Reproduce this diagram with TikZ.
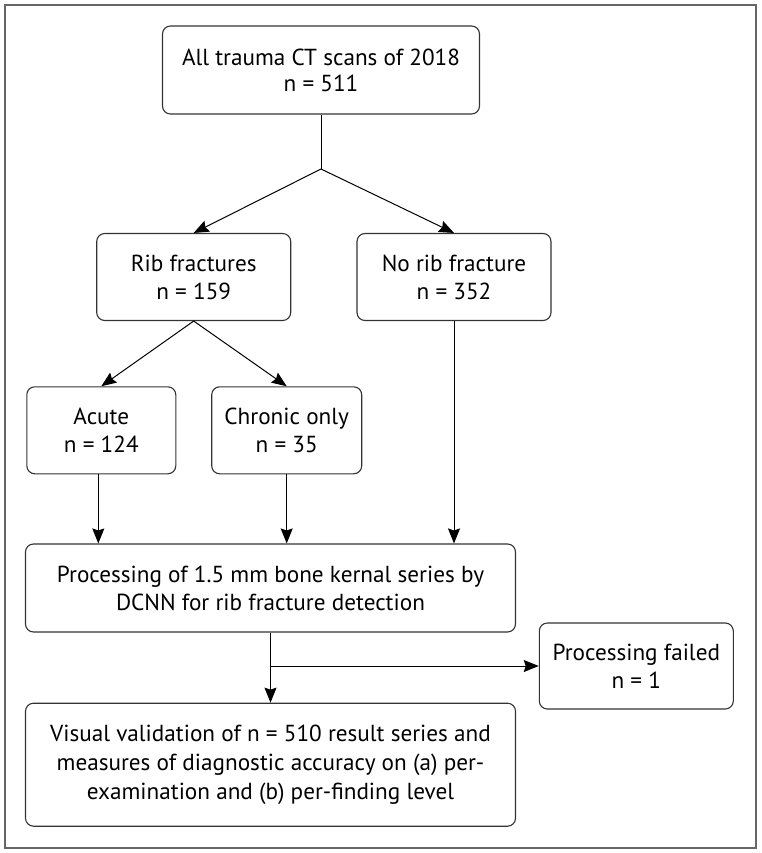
\documentclass[tikz,border=0pt]{standalone}
\usepackage{fontspec}
\setmainfont{PT Sans}
\usetikzlibrary{arrows.meta,calc}
\begin{document}
\begin{tikzpicture}[x=1pt,y=-1pt,
  box/.style={draw=black!80,line width=1.1pt,rounded corners=8pt,align=center,
    inner sep=0pt,font=\fontsize{23.2}{28}\selectfont},
  conn/.style={draw=black,line width=1pt},
  arr/.style={conn,-{Stealth[length=15pt,width=12pt,inset=2pt]}}]
\useasboundingbox (0,0) rectangle (761,853);
\draw[black!60,line width=2pt] (5,5) rectangle (756,848);
\node[box,font=\fontsize{23.2}{26}\selectfont,minimum width=317pt,minimum height=88pt] (top) at (321,70) {All trauma CT scans of 2018\\n = 511};
\node[box,minimum width=194pt,minimum height=87pt] (rib) at (193.7,277) {Rib fractures\\n = 159};
\node[box,minimum width=194pt,minimum height=87pt] (norib) at (454,277) {No rib fracture\\n = 352};
\node[box,minimum width=149pt,minimum height=87pt] (acute) at (101.3,430.3) {Acute\\n = 124};
\node[box,minimum width=150pt,minimum height=87pt] (chronic) at (286.7,430.3) {Chronic only\\n = 35};
\node[box,minimum width=490pt,minimum height=88pt] (proc) at (270.5,588) {Processing of 1.5 mm bone kernal series by\\DCNN for rib fracture detection};
\node[box,minimum width=194pt,minimum height=86pt] (failed) at (636.3,666) {Processing failed\\n = 1};
\node[box,font=\fontsize{23.2}{29}\selectfont,minimum width=490pt,minimum height=123pt] (visual) at (270.5,764.7) {Visual validation of n = 510 result series and\\measures of diagnostic accuracy on (a) per-\\examination and (b) per-finding level};
\coordinate (split) at (321,169);
\coordinate (branch) at (270.5,666);
\draw[conn] (top.south) -- (split);
\draw[arr] (split) -- (rib.north);
\draw[arr] (split) -- (norib.north);
\draw[arr] (rib.south) -- (acute.north);
\draw[arr] (rib.south) -- (chronic.north);
\draw[arr] ([xshift=-3pt]acute.south) -- ([xshift=-3pt]acute.south |- proc.north);
\draw[arr] (chronic.south) -- (chronic.south |- proc.north);
\draw[arr] (norib.south) -- (norib.south |- proc.north);
\draw[arr] (proc.south) -- (visual.north);
\draw[arr] (branch) -- (failed.west);
\end{tikzpicture}
\end{document}
